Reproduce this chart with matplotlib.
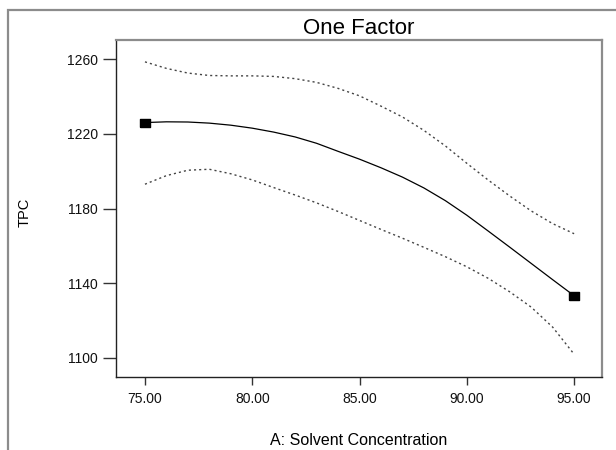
import matplotlib
matplotlib.use("Agg")
import matplotlib.pyplot as plt
from matplotlib.patches import Rectangle

plt.rcParams['font.family'] = ['Liberation Sans', 'DejaVu Sans']

# Data
solvent = [75, 76, 77, 78, 79, 80, 81, 82, 83, 84, 85,
           86, 87, 88, 89, 90, 91, 92, 93, 94, 95]
tpc_mean = [1226.0, 1226.4, 1226.3, 1225.7, 1224.6, 1223.0, 1220.9, 1218.3, 1214.9, 1210.6, 1206.4,
            1201.8, 1196.8, 1191.0, 1184.2, 1176.4, 1167.9, 1159.3, 1150.6, 1141.9, 1133.3]
tpc_upper = [1258.5, 1255.0, 1252.5, 1251.2, 1251.0, 1251.0, 1250.7, 1249.5, 1247.5, 1244.3, 1240.3,
             1234.8, 1229.0, 1221.8, 1213.5, 1204.2, 1195.2, 1186.7, 1178.7, 1171.9, 1166.5]
tpc_lower = [1193.0, 1197.6, 1200.5, 1201.0, 1198.6, 1195.3, 1191.2, 1187.2, 1183.0, 1178.4, 1173.6,
             1168.8, 1164.1, 1159.2, 1154.2, 1148.8, 1142.6, 1135.4, 1127.2, 1116.5, 1102.0]
x_ticks = [75, 80, 85, 90, 95]
x_ticklabels = ["75.00", "80.00", "85.00", "90.00", "95.00"]
y_ticks = [1100, 1140, 1180, 1220, 1260]

fig = plt.figure(figsize=(6.16, 4.5), dpi=100)
W, H = 616, 450

# outer gray frame (clipped at right/bottom like the reference)
fig.patches.append(Rectangle((8 / W, -0.2), 1.2, 1 - 10 / H + 0.2,
                             transform=fig.transFigure, fill=False,
                             edgecolor='#8c8c8c', linewidth=1.6))

ax = fig.add_axes([116 / W, 1 - 377 / H, (602 - 116) / W, (377 - 40) / H])
ax.set_xlim(73.65, 96.3)
ax.set_ylim(1089.8, 1270.2)

ax.plot(solvent, tpc_upper, color='#444444', linewidth=1.0, linestyle=(0, (1.5, 2.2)))
ax.plot(solvent, tpc_lower, color='#444444', linewidth=1.0, linestyle=(0, (1.5, 2.2)))
ax.plot(solvent, tpc_mean, color='black', linewidth=0.9)

rect_marker = [(-1.4, -1), (1.4, -1), (1.4, 1), (-1.4, 1), (-1.4, -1)]
ax.plot([solvent[0], solvent[-1]], [tpc_mean[0], tpc_mean[-1]], linestyle='none',
        marker=rect_marker, markersize=7.5, color='black')

ax.set_xticks(x_ticks)
ax.set_xticklabels(x_ticklabels)
ax.set_yticks(y_ticks)

ax.tick_params(axis='x', direction='out', length=6, width=1, color='#333333',
               labelsize=10, pad=5, labelcolor='#111111')
ax.tick_params(axis='y', direction='out', length=9.5, width=1, color='#333333',
               labelsize=10, pad=3.5, labelcolor='#111111')

for s in ['left', 'bottom']:
    ax.spines[s].set_color('#222222')
    ax.spines[s].set_linewidth(1.0)
for s in ['top', 'right']:
    ax.spines[s].set_color('#8c8c8c')
    ax.spines[s].set_linewidth(1.6)

ax.set_title("One Factor", fontsize=16, pad=4)
ax.set_xlabel("A: Solvent Concentration", fontsize=11.5, labelpad=19)
fig.text(25 / W, 1 - 212 / H, "TPC", rotation=90, ha='center', va='center', fontsize=10.5)

fig.savefig("out.png", dpi=100)
